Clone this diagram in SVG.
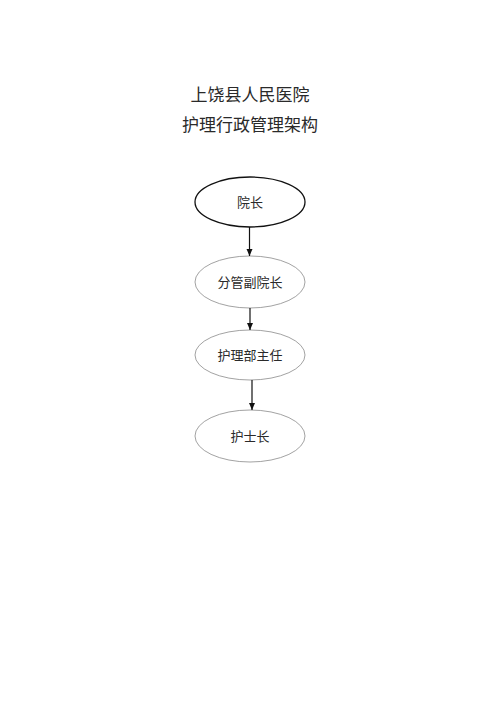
<svg xmlns="http://www.w3.org/2000/svg" width="500" height="707" viewBox="0 0 500 707">
<style>
.t{font-family:"Noto Sans CJK SC","Noto Sans CJK JP",sans-serif;fill:#2a2a2a;text-anchor:middle;font-weight:400}
.h{font-size:17px}
.n{font-size:13px}
.e{fill:#fff;stroke:#8a8a8a;stroke-width:0.8}
.c{stroke:#111;stroke-width:1.2;fill:none}
</style>
<defs>
<marker id="a" markerWidth="8" markerHeight="8" refX="7" refY="4" orient="auto" markerUnits="userSpaceOnUse">
<path d="M0,1 L7,4 L0,7 Z" fill="#111"/>
</marker>
</defs>
<rect width="500" height="707" fill="#fff"/>
<text class="t h" x="250" y="101">上饶县人民医院</text>
<text class="t h" x="250" y="131">护理行政管理架构</text>
<g id="n1"><ellipse cx="250" cy="202" rx="55" ry="25" fill="#fff" stroke="#111" stroke-width="1.3"/><text class="t n" x="250" y="207">院长</text></g>
<g id="n2"><ellipse class="e" cx="250" cy="282" rx="55" ry="26"/><text class="t n" x="250" y="287">分管副院长</text></g>
<g id="n3"><ellipse class="e" cx="250" cy="355" rx="55" ry="25"/><text class="t n" x="250" y="360">护理部主任</text></g>
<g id="n4"><ellipse class="e" cx="250" cy="436" rx="55" ry="26"/><text class="t n" x="250" y="441">护士长</text></g>
<g id="connectors">
<line class="c" x1="249.5" y1="227" x2="249.5" y2="256" marker-end="url(#a)"/>
<line class="c" x1="250" y1="308" x2="250" y2="330" marker-end="url(#a)"/>
<line class="c" x1="252" y1="380" x2="252" y2="410" marker-end="url(#a)"/>
</g>
</svg>
